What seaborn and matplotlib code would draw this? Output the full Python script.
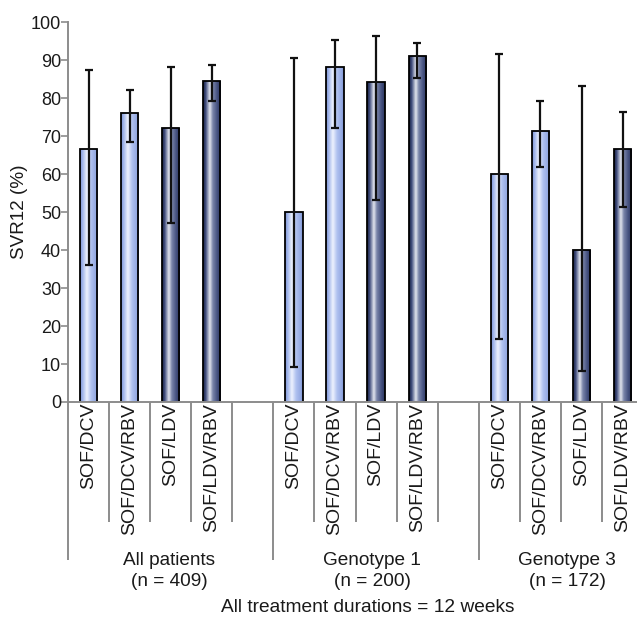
import numpy as np
import pandas as pd
import matplotlib
matplotlib.use("Agg")
import matplotlib.pyplot as plt
from matplotlib.colors import LinearSegmentedColormap
import seaborn as sns

# --- data -----------------------------------------------------------------
groups = ["All patients\n(n = 409)", "Genotype 1\n(n = 200)", "Genotype 3\n(n = 172)"]
regimens = ["SOF/DCV", "SOF/DCV/RBV", "SOF/LDV", "SOF/LDV/RBV"]

svr_all = [66.7, 76.0, 72.2, 84.6]
svr_g1 = [50.0, 88.1, 84.3, 91.2]
svr_g3 = [60.0, 71.4, 40.0, 66.7]

ci_low_all = [36.2, 68.4, 47.2, 79.3]
ci_high_all = [87.4, 82.2, 88.1, 88.8]
ci_low_g1 = [9.2, 72.1, 53.2, 85.3]
ci_high_g1 = [90.5, 95.3, 96.4, 94.6]
ci_low_g3 = [16.5, 61.9, 8.1, 51.4]
ci_high_g3 = [91.6, 79.3, 83.3, 76.3]

footnote = "All treatment durations = 12 weeks"
y_label = "SVR12 (%)"
y_ticks = list(range(0, 101, 10))

# --- assemble long table: one empty slot between groups --------------------
svr = [svr_all, svr_g1, svr_g3]
lo = [ci_low_all, ci_low_g1, ci_low_g3]
hi = [ci_high_all, ci_high_g1, ci_high_g3]
slots_per_group = len(regimens) + 1
rows = []
for g, name in enumerate(groups):
    for i, reg in enumerate(regimens):
        rows.append(dict(pos=g * slots_per_group + i, group=name, regimen=reg,
                         svr=svr[g][i], lo=lo[g][i], hi=hi[g][i]))
df = pd.DataFrame(rows)

# --- style ------------------------------------------------------------------
sns.set_style("white")
plt.rcParams["font.family"] = ["Liberation Sans", "DejaVu Sans"]
GRAY = "#8c8c8c"
TEXT = "#1a1a1a"

light_stops = [(0.0, "#7b91d2"), (0.14, "#a0b4ea"), (0.38, "#eef2fd"),
               (0.62, "#b0c1f0"), (0.88, "#94a9e2"), (1.0, "#7a90cf")]
dark_stops = [(0.0, "#18213f"), (0.14, "#3b4879"), (0.38, "#e2e5ee"),
              (0.55, "#7a85aa"), (0.8, "#45517f"), (1.0, "#2a3560")]
cmaps = {
    "light": LinearSegmentedColormap.from_list("light", light_stops),
    "dark": LinearSegmentedColormap.from_list("dark", dark_stops),
}
shade = {"SOF/DCV": "light", "SOF/DCV/RBV": "light", "SOF/LDV": "dark", "SOF/LDV/RBV": "dark"}
palette = {r: ("#a9bbec" if shade[r] == "light" else "#35416e") for r in regimens}

fig = plt.figure(figsize=(6.37, 6.24), dpi=100)
ax = fig.add_axes([68 / 637, 1 - 402 / 624, 1 - 68 / 637, (402 - 22.3) / 624])

sns.barplot(data=df, x="pos", y="svr", hue="regimen", palette=palette,
            native_scale=True, dodge=False, width=0.42, legend=False,
            edgecolor="black", linewidth=1.3, errorbar=None, ax=ax, zorder=2)

# cylinder-style horizontal gradient clipped to each bar
grad = np.linspace(0, 1, 128)[None, :]
pos_to_reg = dict(zip(df["pos"], df["regimen"]))
for patch in list(ax.patches):
    x0 = patch.get_x()
    w = patch.get_width()
    h = patch.get_height()
    reg = pos_to_reg[int(round(x0 + w / 2))]
    img = ax.imshow(grad, cmap=cmaps[shade[reg]], aspect="auto",
                    extent=[x0, x0 + w, 0, h], zorder=1.9, interpolation="bilinear")
    img.set_clip_path(patch)
    patch.set_facecolor("none")

# asymmetric 95% CI error bars
ax.errorbar(df["pos"], df["svr"],
            yerr=[df["svr"] - df["lo"], df["hi"] - df["svr"]],
            fmt="none", ecolor="#111111", elinewidth=1.6, capsize=3.0,
            capthick=1.6, zorder=3)

# --- axes -------------------------------------------------------------------
slot_px = 41.08
ax.set_xlim(-0.5, -0.5 + (637 - 68) / slot_px)
ax.set_ylim(0, 100)
ax.set_yticks(y_ticks)
ax.set_yticklabels([str(t) for t in y_ticks], fontsize=13, color=TEXT)
ax.set_xticks([])
ax.set_xlabel("")
ax.set_ylabel(y_label, fontsize=13.6, color=TEXT, labelpad=2)
ax.tick_params(axis="y", direction="out", length=5, width=1.2, color=GRAY, pad=0, left=True)
for s in ["top", "right"]:
    ax.spines[s].set_visible(False)
for s in ["left", "bottom"]:
    ax.spines[s].set_color(GRAY)
    ax.spines[s].set_linewidth(1.4)

# category separators and labels below the axis
trans = ax.get_xaxis_transform()
short_y = -0.316
long_y = -0.416
label_dx = [1.96, 1.9, 1.65]
for g, name in enumerate(groups):
    start = g * slots_per_group
    ax.plot([start - 0.5, start - 0.5], [0, long_y], transform=trans, color=GRAY,
            lw=1.4, clip_on=False, solid_capstyle="butt")
    for i, reg in enumerate(regimens):
        ax.plot([start + i + 0.5] * 2, [0, short_y], transform=trans, color=GRAY,
                lw=1.4, clip_on=False, solid_capstyle="butt")
        ax.text(start + i, -0.002, reg, transform=trans, rotation=90,
                ha="center", va="top", fontsize=14.0, color=TEXT)
    ax.text(start + label_dx[g], -0.395, name, transform=trans, ha="center", va="top",
            fontsize=13.7, color=TEXT, linespacing=1.3, multialignment="center")

fig.text(368 / 637, 1 - 607 / 624, footnote, ha="center", va="center",
         fontsize=13.75, color=TEXT)

fig.savefig("out.png", dpi=100)
